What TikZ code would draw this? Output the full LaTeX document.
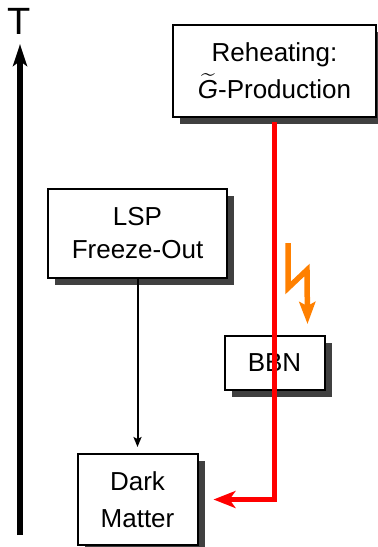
\documentclass[tikz,border=0pt]{standalone}
\usepackage{amsmath}
\usepackage{fontspec}
\setmainfont{Liberation Sans}
\usetikzlibrary{positioning,arrows.meta,shadows}

\begin{document}
\begin{tikzpicture}[
    x=1pt, y=-1pt,
    font=\fontsize{26}{37}\selectfont,
    box/.style={draw, line width=2pt, fill=white, align=center, inner sep=0pt,
        drop shadow={shadow xshift=7pt, shadow yshift=-7pt, fill=black!75, opacity=1}},
    taxis/.style={-{Stealth[length=22pt, width=14pt, inset=5pt]}, line width=5.5pt},
    arr/.style={-{Stealth[length=10pt, width=8pt, inset=2pt]}, line width=2pt},
    hot/.style={-{Stealth[length=22pt, width=17pt, inset=6pt]}, line width=5.5pt, red},
    flash/.style={-{Stealth[length=22pt, width=16pt, inset=4pt]}, line width=5.5pt, orange}
]
\useasboundingbox (0,0) rectangle (378,547);

\node[box, minimum width=203pt, minimum height=92pt] (reheat) at (274.5,71)
    {Reheating:\\$\widetilde{\text{\itshape G}}$-Production};
\node[box, minimum width=179pt, minimum height=89pt, font=\fontsize{26}{33}\selectfont] (lsp) at (137.5,233.5)
    {LSP\\Freeze-Out};
\node[box, minimum width=100pt, minimum height=54pt, below=217pt of reheat] (bbn) {BBN};
\node[box, minimum width=120pt, minimum height=91pt, below=174pt of lsp] (dark) {Dark\\Matter};

% temperature axis
\coordinate (tbot) at (20,535);
\coordinate (ttop) at (20,44);
\node[font=\fontsize{38}{40}\selectfont, inner sep=0pt] (tlabel) at (19,21.5) {T};
\draw[taxis] (tbot) -- (ttop);

\draw[arr, shorten >=6pt] (lsp.south) -- (dark.north);
\draw[hot, shorten <=4pt, shorten >=15pt] (reheat.south) -- (reheat.south |- dark.east) -- (dark.east);

% decay into BBN
\coordinate (bolt) at (288,243);
\draw[flash] (bolt) -- ++(0,45) -- ++(19,-18) -- ([xshift=-18pt,yshift=11pt]bbn.north east);
\end{tikzpicture}
\end{document}
